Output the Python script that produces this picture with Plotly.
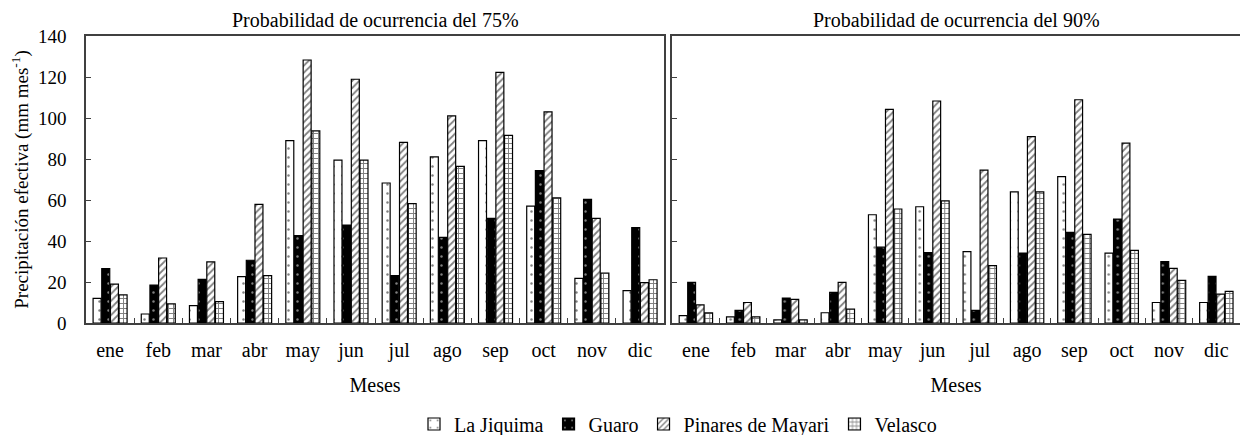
import plotly.graph_objects as go

months = ["ene", "feb", "mar", "abr", "may", "jun", "jul", "ago", "sep", "oct", "nov", "dic"]
series_names = ["La Jiquima", "Guaro", "Pinares de Mayari", "Velasco"]

# Probabilidad 75%
p75_jiquima = [12, 4.4, 8.5, 22.6, 89, 79.5, 68.3, 81, 89, 57, 21.8, 15.8]
p75_guaro = [26.5, 18.5, 21.3, 30.6, 42.6, 47.8, 23.1, 41.8, 51, 74.3, 60.3, 46.5]
p75_pinares = [19, 31.7, 29.8, 57.9, 128.3, 118.9, 88.1, 101, 122.3, 103, 51, 19.7]
p75_velasco = [13.7, 9.3, 10.4, 23.1, 93.7, 79.5, 58.2, 76.4, 91.5, 61, 24.4, 21.1]

# Probabilidad 90%
p90_jiquima = [3.6, 3, 1.5, 5, 52.8, 56.7, 34.8, 64, 71.4, 34.1, 10, 10]
p90_guaro = [19.8, 6.2, 12.2, 14.9, 37, 34.3, 6.2, 34.1, 44.2, 50.7, 30, 22.7]
p90_pinares = [8.8, 10, 11.5, 19.8, 104.2, 108.3, 74.6, 90.9, 108.9, 87.7, 26.6, 14.1]
p90_velasco = [4.9, 3, 1.5, 6.8, 55.6, 59.6, 28, 64, 43.2, 35.4, 20.8, 15.4]

y_ticks = [0, 20, 40, 60, 80, 100, 120, 140]

FONT = "Liberation Serif, Times New Roman, serif"
FS = 20
LINE = "#404040"

patterns = [
    dict(shape=".", bgcolor="white", fgcolor="black", size=9, solidity=0.06),
    dict(shape=".", bgcolor="black", fgcolor="white", size=9, solidity=0.06),
    dict(shape="/", bgcolor="white", fgcolor="black", size=5, solidity=0.35),
    dict(shape="+", bgcolor="white", fgcolor="black", size=5, solidity=0.35),
]

fig = go.Figure()
left = [p75_jiquima, p75_guaro, p75_pinares, p75_velasco]
right = [p90_jiquima, p90_guaro, p90_pinares, p90_velasco]
for i, name in enumerate(series_names):
    fig.add_trace(go.Bar(
        x=months, y=left[i], name=name, xaxis="x", yaxis="y",
        marker=dict(color=patterns[i]["bgcolor"], line=dict(color="black", width=1.2),
                    pattern=patterns[i]),
        legendgroup=name, showlegend=True,
    ))
for i, name in enumerate(series_names):
    fig.add_trace(go.Bar(
        x=months, y=right[i], name=name, xaxis="x2", yaxis="y2",
        marker=dict(color=patterns[i]["bgcolor"], line=dict(color="black", width=1.2),
                    pattern=patterns[i]),
        legendgroup=name, showlegend=False,
    ))

axis_common = dict(showline=True, linecolor=LINE, linewidth=1.5, mirror=True,
                   showgrid=False, zeroline=False, automargin=False)

# page body has an 8px margin: figure is drawn at (8, 8)
fig.update_layout(
    width=1240, height=427,
    margin=dict(l=78, r=8, t=28, b=112, autoexpand=False),
    paper_bgcolor="white", plot_bgcolor="white",
    font=dict(family=FONT, size=FS, color="black"),
    barmode="group", bargap=0.28, bargroupgap=0.08,
    showlegend=True,
    legend=dict(orientation="h", x=0.513, xanchor="center", y=-0.352, yanchor="middle",
                font=dict(family=FONT, size=FS), itemwidth=30, traceorder="normal",
                tracegroupgap=0),
    xaxis=dict(domain=[0, 0.501], type="category", ticks="inside", ticklen=5,
               tickcolor=LINE, tickson="boundaries", ticklabelstandoff=8,
               tickfont=dict(family=FONT, size=20, color="black"),
               title=dict(text="Meses", standoff=17, font=dict(family=FONT, size=20)),
               **axis_common),
    xaxis2=dict(domain=[0.508, 1], type="category", ticks="inside", ticklen=5,
                tickcolor=LINE, tickson="boundaries", ticklabelstandoff=8, anchor="y2",
                tickfont=dict(family=FONT, size=20, color="black"),
                title=dict(text="Meses", standoff=17, font=dict(family=FONT, size=20)),
                **axis_common),
    yaxis=dict(range=[0, 140], tickvals=y_ticks, ticks="inside", ticklen=5, tickcolor=LINE,
               ticklabelstandoff=14,
               tickfont=dict(family=FONT, size=19, color="black"),
               title=dict(text="Precipitación efectiva (mm mes<sup>-1</sup>)", standoff=7,
                          font=dict(family=FONT, size=19)),
               **axis_common),
    yaxis2=dict(range=[0, 140], tickvals=y_ticks, ticks="inside", ticklen=5, tickcolor=LINE,
                showticklabels=False, anchor="x2", matches="y",
                **axis_common),
    annotations=[
        dict(text="Probabilidad de ocurrencia del 75%", xref="paper", yref="paper",
             x=0.2505, xanchor="center", y=1, yanchor="bottom", yshift=3, showarrow=False,
             font=dict(family=FONT, size=20)),
        dict(text="Probabilidad de ocurrencia del 90%", xref="paper", yref="paper",
             x=0.754, xanchor="center", y=1, yanchor="bottom", yshift=3, showarrow=False,
             font=dict(family=FONT, size=20)),
    ],
)

fig.write_html("out.html")
